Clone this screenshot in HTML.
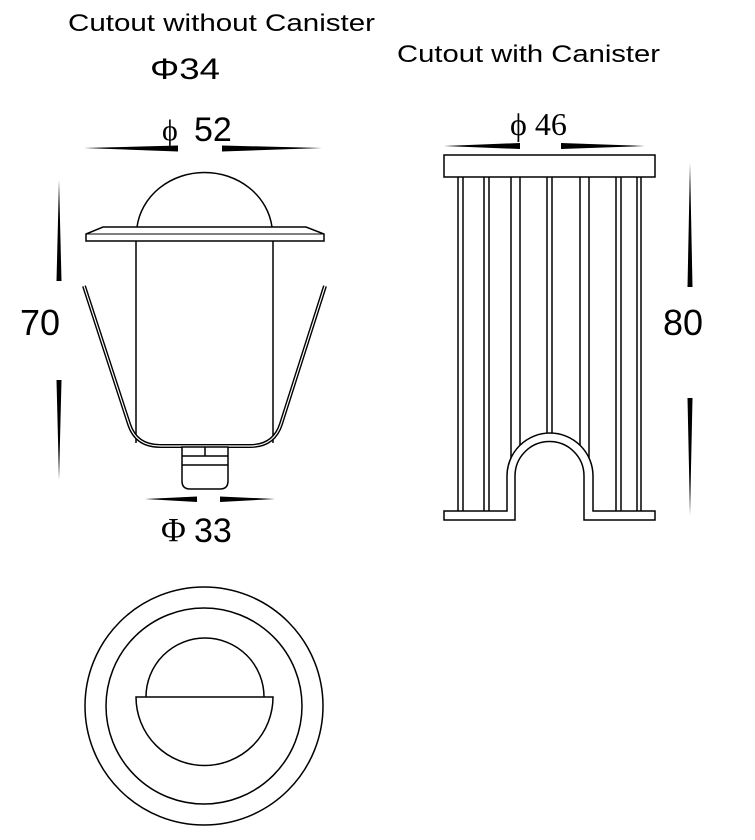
<!DOCTYPE html>
<html><head><meta charset="utf-8"><style>
html,body{margin:0;padding:0;background:#fff;}
svg{display:block;}
.s{font-family:"Liberation Sans",sans-serif;fill:#000;}
.r{font-family:"Liberation Serif",serif;fill:#000;}
</style></head><body>
<svg width="755" height="840" viewBox="0 0 755 840" xmlns="http://www.w3.org/2000/svg">
<g stroke="#000" fill="none" stroke-width="1.5">
<path d="M137 227 A68 62 0 0 1 272 227" />
<path d="M103 227 L306 227 L324 234 L324 241 L86 241 L86 234 Z" fill="#fff"/>
<line x1="86" y1="234" x2="324" y2="234" stroke-width="1"/>
<path d="M136 241 V443 M273 241 V443" />
<path d="M84 286 L129 424 Q136 446 160 446 L250 446 Q274 446 281 424 L325 286" stroke-width="4"/>
<path d="M84 286 L129 424 Q136 446 160 446 L250 446 Q274 446 281 424 L325 286" stroke="#fff" stroke-width="1.2"/>
<path d="M182 447 V481 Q182 489 190 489 H220 Q228 489 228 481 V447 Z" fill="#fff"/>
<path d="M182 456 H228 M182 465 H228 M205 447 V456"/>
<circle cx="204" cy="706" r="119"/>
<circle cx="204" cy="706" r="98"/>
<path d="M146 697 A59 59 0 0 1 264 697"/>
<path d="M136 697 H273 A68 68 0 0 1 136 697 Z"/>
<rect x="444" y="155" width="211" height="22"/>
<path d="M458 177V511 M463 177V511 M484 177V511 M489 177V511 M511 177V511 M520 177V511 M547 177V511 M552 177V511 M580 177V511 M589 177V511 M616 177V511 M621 177V511 M637 177V511 M641 177V511"/>
<path d="M507 476 A43 43 0 0 1 593 476 V525 H507 Z" fill="#fff" stroke="none"/>
<path d="M444 511 H507 V476 A43 43 0 0 1 593 476 V511 H655 V520 H584 V476 A34.5 34.5 0 0 0 515 476 V520 H444 Z" fill="#fff"/>
</g>
<g fill="#000">
<polygon points="84,148 178,145.5 178,151.5"/>
<polygon points="322,148 222,145.5 222,151.5"/>
<polygon points="444,146 520,143 520,149"/>
<polygon points="645,146 561,143 561,149"/>
<polygon points="145,499 197,496.5 197,502"/>
<polygon points="275,499 220,496.5 220,502"/>
<polygon points="59,180 56.5,281 61.5,281"/>
<polygon points="59,480 56.5,380 61.5,380"/>
<polygon points="690,163 687.5,287 692.5,287"/>
<polygon points="690,515 687.5,398 692.5,398"/>
</g>
<text x="68" y="31" class="s" font-size="24" textLength="307" lengthAdjust="spacingAndGlyphs">Cutout without  Canister</text>
<text x="150" y="79" class="s" font-size="30" textLength="70" lengthAdjust="spacingAndGlyphs">Φ34</text>
<text x="397" y="62" class="s" font-size="24" textLength="263" lengthAdjust="spacingAndGlyphs">Cutout with  Canister</text>
<text x="162" y="140" class="r" font-size="30">ϕ</text>
<text x="194" y="141" class="s" font-size="34">52</text>
<text x="510" y="135" class="r" font-size="32">ϕ 46</text>
<text x="161" y="541" class="r" font-size="34">Φ</text>
<text x="194" y="542" class="s" font-size="34">33</text>
<text x="20" y="335" class="s" font-size="36">70</text>
<text x="663" y="335" class="s" font-size="36">80</text>
</svg>
</body></html>
